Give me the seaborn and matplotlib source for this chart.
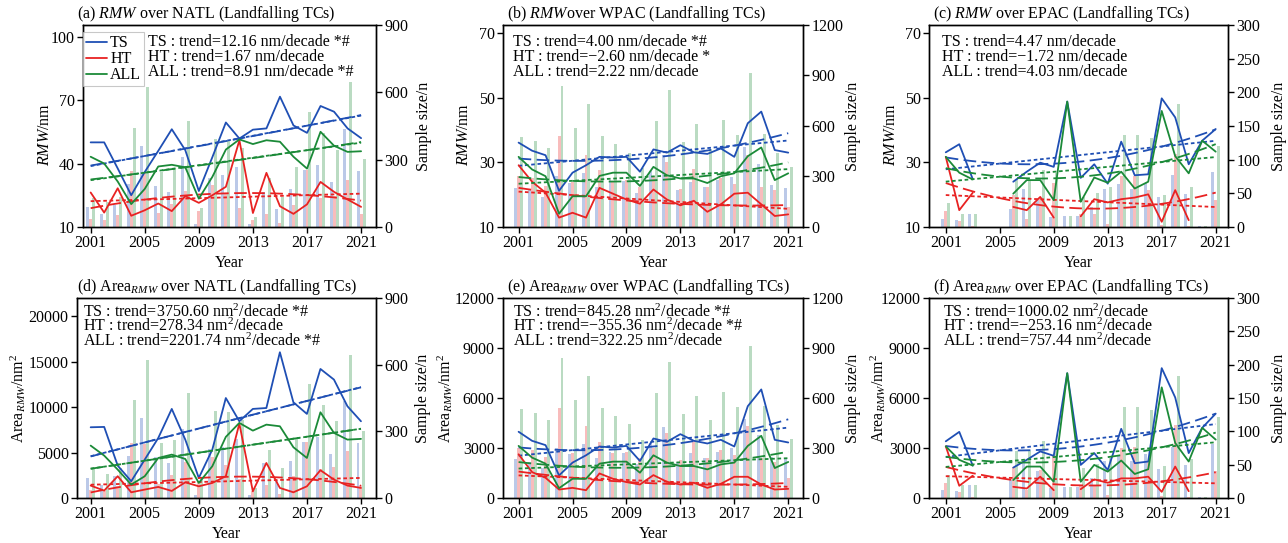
import numpy as np
import pandas as pd
import matplotlib
matplotlib.use("Agg")
import matplotlib.pyplot as plt
import seaborn as sns

nan = np.nan
years = list(range(2001, 2022))
xticks = [2001, 2005, 2009, 2013, 2017, 2021]
labels = ["TS", "HT", "ALL"]

# ---------------- RMW (nm) ----------------
natl_rmw_ts = [50, 50, 37.7, 25, 36, 46, 56.2, 46.3, 27, 43, 59.4, 51.8, 56, 56.6, 71.6, 58, 54.5, 67.2, 64.5, 56.6, 52]
natl_rmw_ht = [26.3, 16.8, 28.3, 15.3, 17.9, 21.1, 17.5, 24.6, 21.4, 25, 29, 51, 16.6, 35.6, 19.8, 16.2, 20.7, 31.3, 26.6, 23, 19.5]
natl_rmw_all = [43.2, 40.0, 31.5, 20.8, 28.0, 38.6, 39.4, 38.2, 23.4, 33.7, 46.6, 51.4, 49.2, 51, 50.3, 43.2, 37.6, 55, 48.4, 45.5, 45.8]

wpac_rmw_ts = [36.1, 33.6, 32.2, 21.2, 26.8, 29.1, 31.7, 31.5, 31.7, 27.1, 34, 33, 35.3, 33.1, 32.6, 34.3, 31.7, 42.1, 45.7, 33.8, 33]
wpac_rmw_ht = [29.1, 24, 20.6, 12.9, 14.4, 12.9, 22.1, 20.3, 18.5, 17.2, 21.6, 18.5, 16.7, 18.1, 14.7, 17, 20.3, 20.6, 17, 13.4, 13.9]
wpac_rmw_all = [31.7, 27.8, 25.7, 14.1, 19.5, 19.5, 25.8, 26.8, 26.8, 22.7, 28.6, 26, 25, 25, 23.6, 25.7, 26.6, 31.9, 34.6, 24.5, 26.6]

epac_rmw_ts = [33.1, 35.6, 24.8, nan, nan, 24, 27.1, 29.9, 28.6, 48.8, 25.2, 29.4, 23.4, 36.4, 26, 26.3, 49.8, 43.9, 29.4, 36.7, 40.3]
epac_rmw_ht = [31.7, 15.2, 20.6, nan, nan, 16.2, 15.2, 19.3, 12.9, nan, 13.3, 18.6, 17.6, 18.6, 19.1, 20.1, 11.6, 21.4, 12.1, nan, 22]
epac_rmw_all = [31.7, 26.8, 24.7, nan, nan, 20.3, 24.5, 24.5, 18.3, 48.8, 17.8, 25.3, 23.7, 27.1, 21.9, 24, 45.9, 31.9, 26.6, 36.7, 33.3]

# ---------------- Area_RMW (nm^2) ----------------
natl_area_ts = [7780, 7816, 3560, 1835, 4220, 6600, 9800, 6420, 2200, 5320, 11000, 8440, 9800, 9900, 16040, 10530, 9250, 14200, 13030, 10090, 8440]
natl_area_ht = [1360, 810, 2390, 620, 920, 1210, 770, 1720, 1280, 1650, 2390, 8180, 730, 3850, 1100, 620, 1280, 3050, 2020, 1360, 1100]
natl_area_all = [5760, 4660, 3120, 1470, 2390, 4400, 4770, 4290, 1650, 3490, 6720, 8260, 7410, 8070, 7890, 5580, 4400, 9430, 7160, 6420, 6500]

wpac_area_ts = [3973, 3430, 3170, 1350, 2120, 2560, 3090, 3025, 3125, 2220, 3570, 3370, 3830, 3430, 3270, 3490, 3090, 5510, 6515, 3490, 3330]
wpac_area_ht = [2620, 1550, 1210, 505, 605, 464, 1470, 1150, 950, 805, 1370, 970, 805, 910, 605, 850, 1270, 1270, 805, 505, 545]
wpac_area_all = [3125, 2420, 2060, 585, 1150, 1150, 2060, 2180, 2180, 1515, 2560, 2120, 1915, 1915, 1715, 2015, 2120, 3125, 3730, 1795, 2160]

epac_area_ts = [3400, 3967, 1943, nan, nan, 1822, 2287, 2793, 2530, 7490, 1984, 2692, 1680, 4150, 2085, 2186, 7794, 6032, 2692, 4211, 5061]
epac_area_ht = [3097, 729, 1336, nan, nan, 668, 567, 1275, 466, nan, 526, 1113, 911, 1174, 1174, 1275, 364, 1883, 405, nan, 1500]
epac_area_all = [3097, 2287, 1943, nan, nan, 1073, 1883, 1883, 972, 7490, 972, 1984, 1579, 2247, 1437, 1721, 6640, 3300, 2186, 4211, 3502]

# ---------------- sample sizes ----------------
natl_n_ts = [90, 60, 100, 190, 362, 183, 156, 312, 15, 220, 230, 265, 15, 156, 82, 168, 253, 275, 200, 436, 248]
natl_n_ht = [37, 33, 52, 248, 245, 64, 104, 160, 71, 186, 150, 85, 30, 60, 18, 100, 253, 130, 140, 211, 56]
natl_n_all = [131, 110, 135, 442, 622, 247, 260, 472, 86, 390, 387, 350, 45, 218, 135, 268, 512, 420, 345, 646, 303]

wpac_n_ts = [232, 218, 180, 302, 262, 323, 238, 278, 272, 202, 331, 425, 218, 268, 238, 278, 298, 476, 377, 248, 232]
wpac_n_ht = [302, 288, 244, 540, 268, 430, 337, 268, 278, 238, 302, 387, 228, 347, 238, 288, 258, 430, 238, 218, 120]
wpac_n_all = [536, 510, 470, 840, 589, 732, 542, 492, 441, 350, 632, 815, 502, 614, 466, 634, 547, 912, 552, 437, 355]

epac_n_ts = [12, 11, 20, 0, 0, 27, 56, 40, 15, 16, 17, 30, 56, 64, 56, 66, 44, 77, 49, 2, 81]
epac_n_ht = [23, 9, 2, 0, 0, 47, 12, 42, 65, 0, 20, 20, 5, 75, 76, 55, 3, 109, 2, 0, 40]
epac_n_all = [35, 20, 20, 0, 0, 71, 70, 85, 80, 16, 45, 51, 60, 137, 136, 132, 48, 183, 59, 2, 121]

titles = [
    r"(a) $\it{RMW}$ over NATL (Landfalling TCs)",
    r"(b) $\it{RMW}$over WPAC (Landfalling TCs)",
    r"(c) $\it{RMW}$ over EPAC (Landfalling TCs)",
    r"(d) Area$_{\it{RMW}}$ over NATL (Landfalling TCs)",
    r"(e) Area$_{\it{RMW}}$ over WPAC (Landfalling TCs)",
    r"(f) Area$_{\it{RMW}}$ over EPAC (Landfalling TCs)",
]
trend_texts = [
    ["TS : trend=12.16 nm/decade *#", "HT : trend=1.67 nm/decade", "ALL : trend=8.91 nm/decade *#"],
    ["TS : trend=4.00 nm/decade *#", "HT : trend=\u22122.60 nm/decade *", "ALL : trend=2.22 nm/decade"],
    ["TS : trend=4.47 nm/decade", "HT : trend=\u22121.72 nm/decade", "ALL : trend=4.03 nm/decade"],
    ["TS : trend=3750.60 nm$^2$/decade *#", "HT : trend=278.34 nm$^2$/decade", "ALL : trend=2201.74 nm$^2$/decade *#"],
    ["TS : trend=845.28 nm$^2$/decade *#", "HT : trend=\u2212355.36 nm$^2$/decade *#", "ALL : trend=322.25 nm$^2$/decade"],
    ["TS : trend=1000.02 nm$^2$/decade", "HT : trend=\u2212253.16 nm$^2$/decade", "ALL : trend=757.44 nm$^2$/decade"],
]

sns.set_theme(style="ticks")
plt.rcParams["font.family"] = ["Liberation Serif", "DejaVu Serif"]
plt.rcParams["mathtext.fontset"] = "custom"
plt.rcParams["mathtext.rm"] = "Liberation Serif"
plt.rcParams["mathtext.it"] = "Liberation Serif:italic"
plt.rcParams["mathtext.bf"] = "Liberation Serif:bold"
plt.rcParams["axes.edgecolor"] = "black"
plt.rcParams["axes.linewidth"] = 1.0
plt.rcParams["xtick.color"] = "black"
plt.rcParams["ytick.color"] = "black"
plt.rcParams["text.color"] = "black"
plt.rcParams["axes.labelcolor"] = "black"

colors = {"TS": "#1f4fb4", "HT": "#e82222", "ALL": "#1b8a38"}
FS = 11.5

fig = plt.figure(figsize=(12.88, 5.43), dpi=100)

positions = [
    [0.0644, 0.582, 0.2275, 0.372],
    [0.3905, 0.582, 0.2330, 0.372],
    [0.7213, 0.582, 0.2320, 0.372],
    [0.0598, 0.083, 0.2320, 0.368],
    [0.3905, 0.083, 0.2330, 0.368],
    [0.7213, 0.083, 0.2320, 0.368],
]
xlims = [(2000.43, 2022.1), (1999.84, 2022.1), (1999.76, 2021.9),
         (1999.99, 2022.1), (1999.84, 2022.1), (1999.76, 2021.9)]
ylims = [(10, 105.5), (10, 72.5), (10, 72.5), (0, 22000), (0, 12000), (0, 12000)]
yticks = [[10, 40, 70, 100], [10, 30, 50, 70], [10, 30, 50, 70],
          [0, 5000, 10000, 15000, 20000], [0, 3000, 6000, 9000, 12000], [0, 3000, 6000, 9000, 12000]]
y2lims = [900, 1200, 300, 900, 1200, 300]
y2ticks = [[0, 300, 600, 900], [0, 300, 600, 900, 1200], [0, 50, 100, 150, 200, 250, 300]] * 2
ylabels = [r"$\it{RMW}$/nm"] * 3 + [r"Area$_{\it{RMW}}$/nm$^2$"] * 3
ylab_x = [-0.102, -0.102, -0.102, -0.163, -0.160, -0.136]
ylab_y = [0.46, 0.46, 0.46, 0.5, 0.5, 0.5]
y2lab_x = [1.135, 1.141, 1.146, 1.130, 1.141, 1.146]
title_x = [-0.02, 0.013, 0.013, 0.0, 0.013, 0.013]
text_x = [0.222, 0.033, 0.043, 0.02, 0.033, 0.046]
text_ymid = [0.842, 0.842, 0.842, 0.857, 0.857, 0.857]
text_ls = [0.9, 0.9, 0.9, 0.78, 0.78, 0.78]

series = [
    (natl_rmw_ts, natl_rmw_ht, natl_rmw_all, natl_n_ts, natl_n_ht, natl_n_all),
    (wpac_rmw_ts, wpac_rmw_ht, wpac_rmw_all, wpac_n_ts, wpac_n_ht, wpac_n_all),
    (epac_rmw_ts, epac_rmw_ht, epac_rmw_all, epac_n_ts, epac_n_ht, epac_n_all),
    (natl_area_ts, natl_area_ht, natl_area_all, natl_n_ts, natl_n_ht, natl_n_all),
    (wpac_area_ts, wpac_area_ht, wpac_area_all, wpac_n_ts, wpac_n_ht, wpac_n_all),
    (epac_area_ts, epac_area_ht, epac_area_all, epac_n_ts, epac_n_ht, epac_n_all),
]

for i, (ts, ht, al, nts, nht, nal) in enumerate(series):
    ax = fig.add_axes(positions[i])
    ax2 = ax.twinx()

    # sample-size bars
    bars = pd.DataFrame({
        "year": years * 3,
        "n": list(nts) + list(nht) + list(nal),
        "type": ["TS"] * 21 + ["HT"] * 21 + ["ALL"] * 21,
    })
    sns.barplot(data=bars, x="year", y="n", hue="type", hue_order=labels,
                palette=colors, native_scale=True, width=0.66, alpha=0.3,
                errorbar=None, legend=False, ax=ax2, linewidth=0, saturation=1)
    ax2.set_ylim(0, y2lims[i])
    ax2.set_yticks(y2ticks[i])
    ax2.set_ylabel("Sample size/n", fontsize=FS)
    ax2.yaxis.set_label_coords(y2lab_x[i], 0.5)
    ax2.tick_params(axis="y", labelsize=FS, length=4, width=1, direction="out", pad=2)

    # lines and trends
    handles = []
    for lab, vals in zip(labels, (ts, ht, al)):
        df = pd.DataFrame({"year": years, "val": vals})
        h, = ax.plot(df["year"], df["val"], color=colors[lab], lw=1.3, label=lab)
        handles.append(h)
        d = df.dropna()
        sns.regplot(data=d, x="year", y="val", order=2, ci=None, scatter=False,
                    truncate=True, ax=ax, color=colors[lab],
                    line_kws=dict(lw=1.3, ls=(0, (7, 3))))
        sns.regplot(data=d, x="year", y="val", order=1, ci=None, scatter=False,
                    truncate=True, ax=ax, color=colors[lab],
                    line_kws=dict(lw=1.3, ls=(0, (2, 1.5))))

    ax.set_zorder(ax2.get_zorder() + 1)
    ax.patch.set_visible(False)

    ax.set_xlim(*xlims[i])
    ax.set_xticks(xticks)
    ax.set_xticklabels([str(x) for x in xticks])
    ax.set_ylim(*ylims[i])
    ax.set_yticks(yticks[i])
    ax.set_xlabel("Year", fontsize=FS, labelpad=3)
    ax.set_ylabel(ylabels[i], fontsize=FS)
    ax.yaxis.set_label_coords(ylab_x[i], ylab_y[i])
    ax.tick_params(axis="both", labelsize=FS, length=4, width=1, direction="out", pad=2)
    for sp in list(ax.spines.values()) + list(ax2.spines.values()):
        sp.set_visible(True)
        sp.set_color("black")

    ax.text(title_x[i], 1.034, titles[i], transform=ax.transAxes,
            fontsize=FS, ha="left", va="baseline")
    ax.text(text_x[i], text_ymid[i], "\n".join(trend_texts[i]),
            transform=ax.transAxes, fontsize=FS, ha="left", va="center",
            linespacing=text_ls[i])

    if i == 0:
        leg = ax.legend(handles=handles, labels=labels, loc="upper left",
                        bbox_to_anchor=(0.0, 0.965), borderaxespad=0.0,
                        fontsize=FS, handlelength=1.3, handletextpad=0.2,
                        labelspacing=0.0, borderpad=0.2, frameon=True,
                        fancybox=False)
        leg.get_frame().set_edgecolor("#bbbbbb")
        leg.get_frame().set_linewidth(0.8)

fig.savefig("out.png", dpi=100)
